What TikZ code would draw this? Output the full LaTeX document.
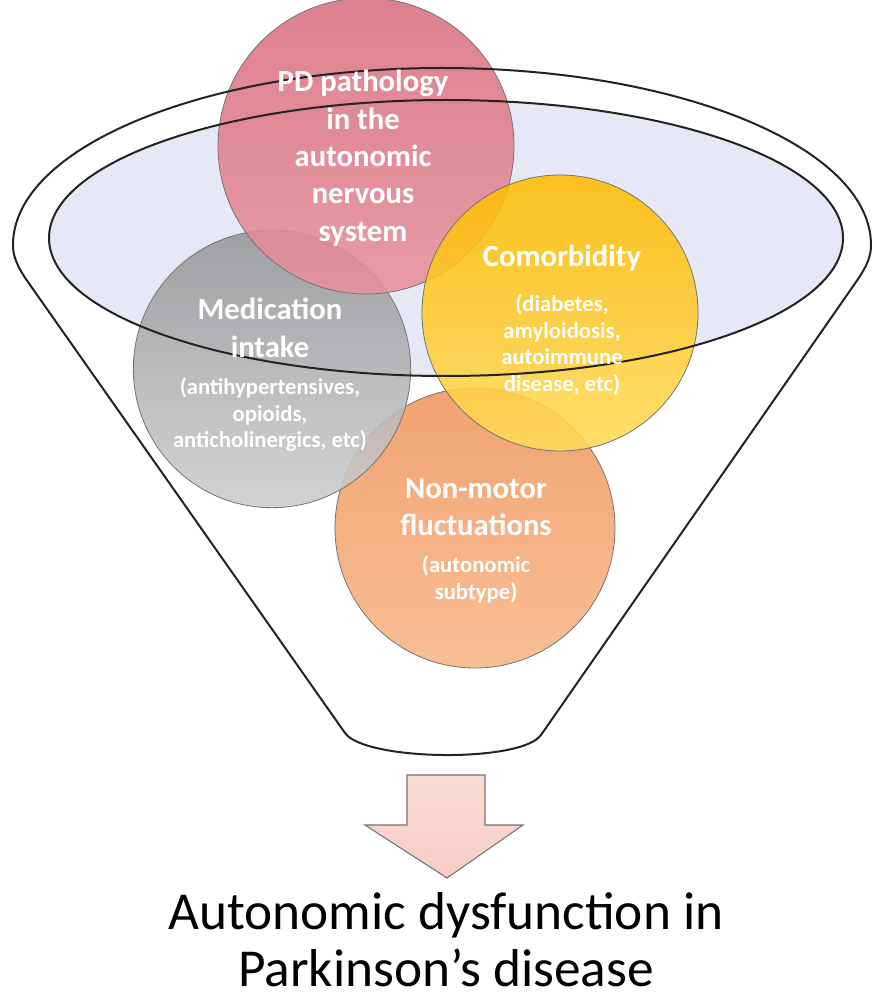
\documentclass[tikz,border=0pt]{standalone}
\usepackage{fontspec}
\setmainfont{Carlito}
\definecolor{rim}{RGB}{35,35,35}
\definecolor{mouth}{RGB}{230,232,245}
\definecolor{pdred}{RGB}{218,110,126}
\definecolor{pdredlt}{RGB}{232,145,156}
\definecolor{medgray}{RGB}{150,150,152}
\definecolor{medgraylt}{RGB}{205,205,207}
\definecolor{comyel}{RGB}{255,188,0}
\definecolor{comyellt}{RGB}{255,218,90}
\definecolor{nmorange}{RGB}{240,150,95}
\definecolor{nmorangelt}{RGB}{248,182,135}
\definecolor{arrowpink}{RGB}{246,205,196}
\newcommand\subtxt{\fontsize{17}{20}\selectfont}
\newcommand\sublines[1]{\subtxt\begin{tabular}[t]{@{}c@{}}#1\end{tabular}}
\begin{document}
\begin{tikzpicture}[
x=0.75pt, y=-0.75pt,
bubble/.style={circle, draw=black!55, line width=0.6pt, minimum size=#1, inner sep=0pt, fill opacity=0.88},
caption/.style={align=center, text=white, inner sep=0pt, font=\bfseries\fontsize{23}{28}\selectfont},
rimline/.style={draw=rim, line width=1.5pt},
title/.style={align=center, inner sep=0pt, font=\fontsize{40}{43}\selectfont}]
\useasboundingbox (0,0) rectangle (876,998);

% funnel body and its mouth
\fill[white] (345,733) -- (28,282) .. controls (16,265) and (13,255) .. (13,245)
  arc[start angle=180, end angle=360, x radius=429, y radius=177]
  .. controls (871,255) and (868,265) .. (856,282) -- (541,735)
  .. controls (521,763) and (365,761) .. (345,733) -- cycle;
\fill[mouth] (446,238) ellipse [x radius=397, y radius=138];

% the four factors
\node[bubble=210pt, top color=nmorange, bottom color=nmorangelt] (nonmotor) at (475,528) {};
\node[bubble=208pt, top color=medgray, bottom color=medgraylt] (medication) at (272,369) {};
\node[bubble=222pt, top color=pdred, bottom color=pdredlt] (pathology) at (366,146) {};
\node[bubble=207pt, top color=comyel, bottom color=comyellt] (comorbidity) at (560,313) {};

% funnel outline
\draw[rimline] (345,733) -- (28,282) .. controls (16,265) and (13,255) .. (13,245)
  arc[start angle=180, end angle=360, x radius=429, y radius=177]
  .. controls (871,255) and (868,265) .. (856,282) -- (541,735)
  .. controls (521,763) and (365,761) .. (345,733) -- cycle;
\draw[rimline] (446,238) ellipse [x radius=397, y radius=138];

% texts of the factors
\node[caption] (pathology-txt) at (363,158) {PD pathology\\in the\\autonomic\\nervous\\system};
\node[caption] (medication-txt) at (270,377)
  {Medication\\intake\\ \sublines{(antihypertensives,\\opioids,\\anticholinergics, etc)}};
\node[caption] (comorbidity-txt) at (562,322)
  {Comorbidity\\[6pt] \sublines{(diabetes,\\amyloidosis,\\autoimmune\\disease, etc)}};
\node[caption] (nonmotor-txt) at (476,543)
  {Non-motor\\fluctuations\\ \sublines{(autonomic\\subtype)}};

% result
\draw[draw=black!55, line width=0.8pt, top color=arrowpink!70!white, bottom color=arrowpink]
  (407,775) -- (485,775) -- (485,825) -- (523,825) -- (447,878) -- (365,825) -- (407,825) -- cycle;
\node[title] (outcome) at (446,940) {Autonomic dysfunction in\\Parkinson’s disease};
\end{tikzpicture}
\end{document}
